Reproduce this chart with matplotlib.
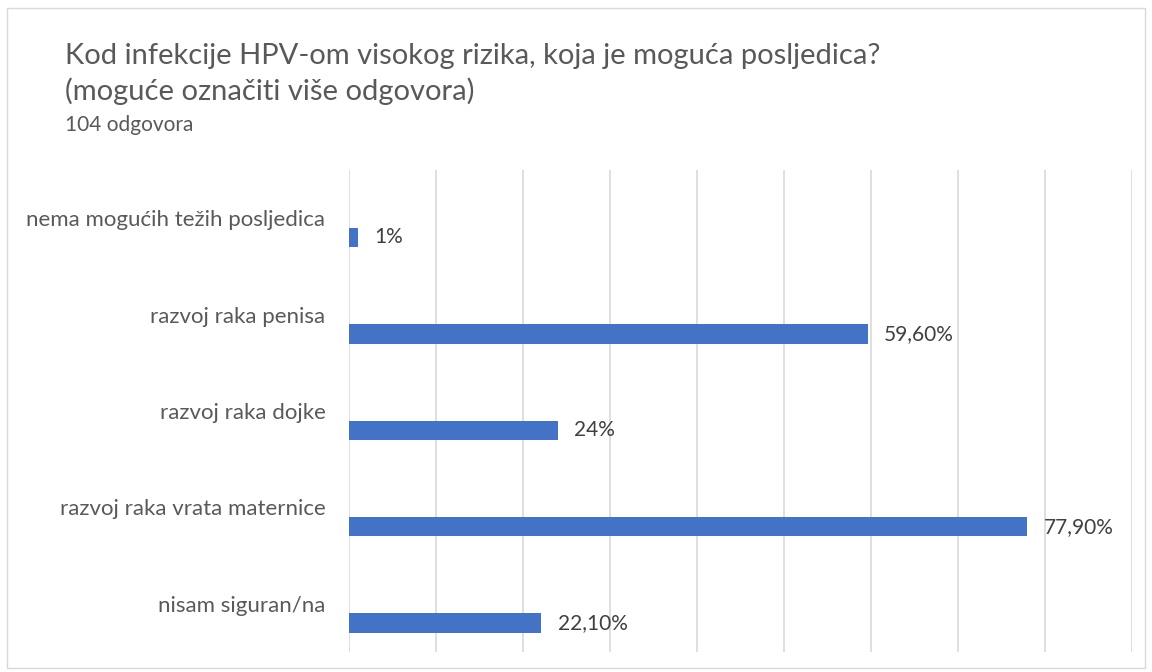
import matplotlib.pyplot as plt
from matplotlib.patches import Rectangle

categories = ['nema mogućih težih posljedica', 'razvoj raka penisa', 'razvoj raka dojke',
              'razvoj raka vrata maternice', 'nisam siguran/na']
values = [1, 59.6, 24, 77.9, 22.1]
value_labels = ['1%', '59,60%', '24%', '77,90%', '22,10%']

title_lines = ['Kod infekcije HPV-om visokog rizika, koja je moguća posljedica?',
               '(moguće označiti više odgovora)']
subtitle = '104 odgovora'

plt.rcParams['font.family'] = ['Lato', 'DejaVu Sans']

fig = plt.figure(figsize=(11.52, 6.72), dpi=100)
fig.patches.append(Rectangle((0.006, 0.006), 0.988, 0.982, transform=fig.transFigure,
                             fill=False, edgecolor='#d9d9d9', linewidth=1))

ax = fig.add_axes([349 / 1152, 1 - 652 / 672, 783 / 1152, 482 / 672])

pos = list(range(len(categories)))
ax.barh([p + 0.2 for p in pos], values, height=0.2, color='#4472c4', zorder=3)
for p, v, lab in zip(pos, values, value_labels):
    ax.annotate(lab, (v, p + 0.2), xytext=(12, 0), textcoords='offset points',
                va='center', ha='left', fontsize=15, color='#404040')

ax.set_xlim(0, 90)
ax.set_ylim(len(categories) - 0.5, -0.5)
ax.set_xticks(range(0, 91, 10))
ax.set_xticklabels([])
ax.tick_params(axis='x', length=0)
ax.grid(axis='x', color='#d9d9d9', linewidth=1.2, zorder=0)
ax.set_yticks(pos)
ax.set_yticklabels(categories, fontsize=16, color='#595959')
ax.tick_params(axis='y', length=0, pad=17)
for s in ax.spines.values():
    s.set_visible(False)

fig.text(65 / 1152, 1 - 64 / 672, title_lines[0], fontsize=21, color='#595959',
         va='baseline', ha='left')
fig.text(65 / 1152, 1 - 100 / 672, title_lines[1], fontsize=21, color='#595959',
         va='baseline', ha='left')
fig.text(65 / 1152, 1 - 131 / 672, subtitle, fontsize=15, color='#595959',
         va='baseline', ha='left')

fig.savefig('out.png', dpi=100)
